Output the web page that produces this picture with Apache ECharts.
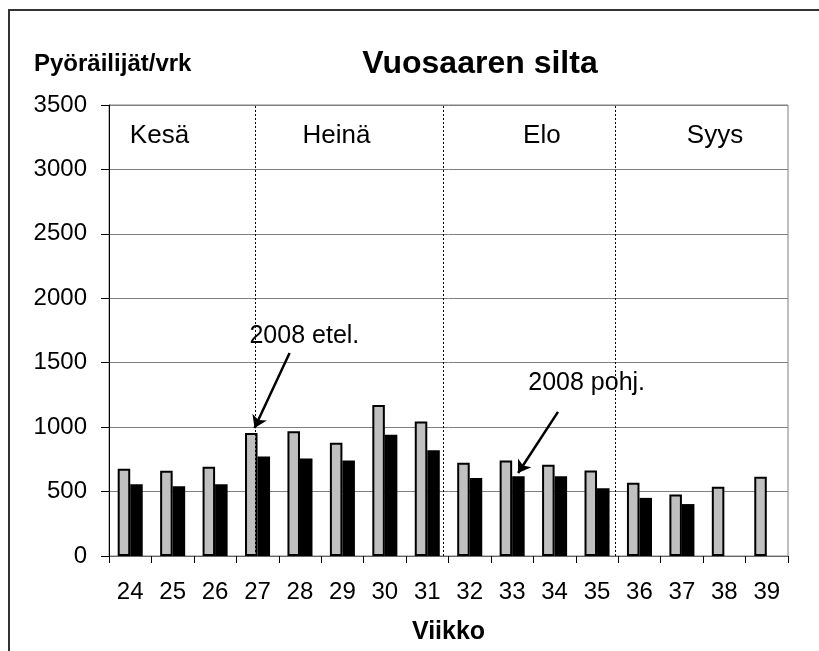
<!DOCTYPE html>
<html>
<head>
<meta charset="utf-8">
<script src="https://cdn.jsdelivr.net/npm/echarts@6/dist/echarts.min.js"></script>
<style>
html,body{margin:0;padding:0;background:#fff;}
#chart{width:819px;height:651px;}
</style>
</head>
<body>
<div id="chart"></div>
<script>
// ---- data ----
var weeks = ['24','25','26','27','28','29','30','31','32','33','34','35','36','37','38','39'];
var south2008 = [677, 661, 692, 954, 969, 879, 1172, 1044, 723, 741, 708, 664, 569, 477, 538, 615];
var north2008 = [556, 541, 556, 772, 756, 741, 941, 820, 605, 618, 618, 526, 451, 403, null, null];
var yTicks = [0, 500, 1000, 1500, 2000, 2500, 3000, 3500];
var monthNames = ['Kesä', 'Heinä', 'Elo', 'Syys'];
var monthLabelPos = [1.19, 5.36, 10.2, 14.28];   // positions on week scale (0..16)
var monthLabelY = 3260;
var monthBounds = [3.45, 7.87, 11.93];
var annotTexts = ['2008 etel.', '2008 pohj.'];
var annotTextPos = [[3.31, 1707], [9.88, 1338]];
var annotArrows = [
  [[4.255, 1575], [3.43, 993]],
  [[10.58, 1118], [9.64, 644]]
];

var FONT = 'Liberation Sans, Arial, sans-serif';
var chart = echarts.init(document.getElementById('chart'));

var option = {
  animation: false,
  backgroundColor: '#ffffff',
  graphic: [{
    type: 'rect',
    shape: {x: 9, y: 10, width: 900, height: 700},
    style: {fill: 'none', stroke: '#333', lineWidth: 2},
    silent: true
  }],
  title: [{
    text: 'Vuosaaren silta',
    left: 475, top: 43, textAlign: 'center',
    textStyle: {fontFamily: FONT, fontSize: 32, fontWeight: 'bold', color: '#000'}
  }, {
    text: 'Pyöräilijät/vrk',
    left: 29, top: 47,
    textStyle: {fontFamily: FONT, fontSize: 24, fontWeight: 'bold', color: '#000'}
  }],
  grid: {
    left: 109, top: 105, right: 31, bottom: 95,
    show: true, borderColor: '#808080', borderWidth: 1, backgroundColor: 'transparent'
  },
  xAxis: [{
    type: 'category',
    data: weeks,
    boundaryGap: true,
    axisLine: {lineStyle: {color: '#666', width: 1}},
    axisTick: {show: true, inside: false, length: 7, lineStyle: {color: '#000'}},
    axisLabel: {fontFamily: FONT, fontSize: 24, color: '#000', margin: 24},
    name: 'Viikko',
    nameLocation: 'middle',
    nameGap: 64,
    nameTextStyle: {fontFamily: FONT, fontSize: 25, fontWeight: 'bold', color: '#000'}
  }, {
    type: 'value', min: 0, max: 16, show: false
  }],
  yAxis: {
    type: 'value', min: 0, max: 3500, interval: 500,
    axisLine: {show: true, lineStyle: {color: '#000', width: 1}},
    axisTick: {show: true, inside: false, length: 8, lineStyle: {color: '#000'}},
    axisLabel: {fontFamily: FONT, fontSize: 24, color: '#000', margin: 22,
      formatter: function (v) { return yTicks.indexOf(v) >= 0 ? String(v) : ''; }},
    splitLine: {show: true, lineStyle: {color: '#808080', width: 1}}
  },
  series: [{
    name: '2008 etel.',
    type: 'bar',
    data: south2008,
    barGap: '0%',
    barCategoryGap: '41%',
    itemStyle: {color: '#c0c0c0', borderColor: '#000', borderWidth: 2},
    z: 3
  }, {
    name: '2008 pohj.',
    type: 'bar',
    data: north2008,
    barGap: '0%',
    barCategoryGap: '41%',
    itemStyle: {color: '#000'},
    z: 3
  }, {
    type: 'scatter',
    xAxisIndex: 1,
    symbolSize: 0,
    itemStyle: {opacity: 1},
    data: monthLabelPos.map(function (x, i) { return {value: [x, monthLabelY], name: monthNames[i]}; }),
    label: {show: true, position: 'inside', formatter: '{b}',
      fontFamily: FONT, fontSize: 26, color: '#000'},
    markLine: {
      silent: true,
      symbol: ['none', 'none'],
      label: {show: false},
      lineStyle: {color: '#000', type: [2, 2], width: 1},
      data: monthBounds.map(function (x) { return {xAxis: x}; })
    },
    z: 5
  }, {
    type: 'scatter',
    xAxisIndex: 1,
    symbolSize: 0,
    itemStyle: {opacity: 1},
    data: annotTextPos.map(function (p, i) { return {value: p, name: annotTexts[i]}; }),
    label: {show: true, position: 'right', distance: 0, formatter: '{b}',
      fontFamily: FONT, fontSize: 25, color: '#000'},
    z: 6
  }, {
    type: 'lines',
    coordinateSystem: 'cartesian2d',
    xAxisIndex: 1,
    symbol: ['none', 'arrow'],
    symbolSize: 12,
    lineStyle: {color: '#000', width: 2.5, opacity: 1},
    data: annotArrows.map(function (c) { return {coords: c}; }),
    z: 7
  }]
};
chart.setOption(option);
</script>
</body>
</html>
